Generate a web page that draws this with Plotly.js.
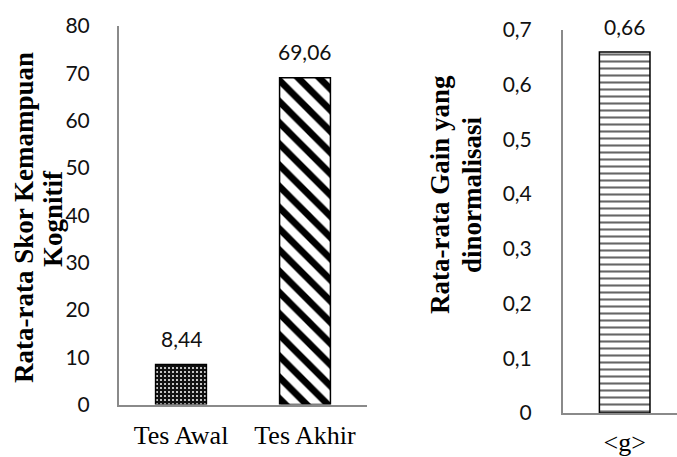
<!DOCTYPE html>
<html>
<head>
<meta charset="utf-8">
<script src="https://cdn.plot.ly/plotly-3.0.1.min.js"></script>
<style>html,body{margin:0;padding:0;background:#fff;}#chart{width:677px;height:457px;}</style>
</head>
<body>
<div id="chart"></div>
<script>
// ---- data ----
var testCategories = ['Tes Awal', 'Tes Akhir'];
var testScores = [8.44, 69.06];
var gainCategories = ['<g>'];
var gainValues = [0.66];
var leftTitleLines = ['Rata-rata Skor Kemampuan', 'Kognitif'];
var rightTitleLines = ['Rata-rata Gain yang', 'dinormalisasi'];

var W = 677, H = 457;
function px(x){ return x / W; }
function py(y){ return 1 - y / H; }

var serif = 'Liberation Serif, Times New Roman, serif';
var sans = 'Lato, Carlito, Calibri, sans-serif';
var axisGray = '#8a8a8a';
var textCol = '#111';

var traces = [
  {
    type: 'bar', x: [testCategories[0]], y: [testScores[0]], xaxis: 'x', yaxis: 'y',
    width: 0.41, hoverinfo: 'skip',
    marker: {color: '#111', line: {color: '#000', width: 1.5},
      pattern: {shape: '.', bgcolor: '#111', fgcolor: '#ffffff', size: 4, solidity: 0.2}}
  },
  {
    type: 'bar', x: [testCategories[1]], y: [testScores[1]], xaxis: 'x', yaxis: 'y',
    width: 0.41, hoverinfo: 'skip',
    marker: {color: '#fff', line: {color: '#000', width: 1.5},
      pattern: {shape: '\\', bgcolor: '#ffffff', fgcolor: '#000', size: 15, solidity: 0.45}}
  },
  {
    type: 'bar', x: gainCategories, y: gainValues, xaxis: 'x2', yaxis: 'y2',
    width: 0.41, hoverinfo: 'skip',
    marker: {color: '#fff', line: {color: '#000', width: 1.5},
      pattern: {shape: '-', bgcolor: '#ffffff', fgcolor: '#666', size: 7, solidity: 0.3}}
  }
];

var annotations = [];
testCategories.forEach(function(c, i){
  annotations.push({xref: 'x', yref: 'y', x: c, y: testScores[i], text: testScores[i].toFixed(2).replace('.', ','),
    showarrow: false, yanchor: 'middle', yshift: 26, font: {family: sans, size: 21, color: textCol}});
});
gainCategories.forEach(function(c, i){
  annotations.push({xref: 'x2', yref: 'y2', x: c, y: gainValues[i], text: gainValues[i].toFixed(2).replace('.', ','),
    showarrow: false, yanchor: 'middle', yshift: 25, font: {family: sans, size: 21, color: textCol}});
});
var leftX = [24, 53], rightX = [440, 472];
leftTitleLines.forEach(function(t, i){
  annotations.push({xref: 'paper', yref: 'paper', x: px(leftX[i]), y: py(218), text: '<b>' + t + '</b>',
    textangle: -90, showarrow: false, xanchor: 'center', yanchor: 'middle',
    font: {family: serif, size: 27, color: '#000'}});
});
rightTitleLines.forEach(function(t, i){
  annotations.push({xref: 'paper', yref: 'paper', x: px(rightX[i]), y: py(195), text: '<b>' + t + '</b>',
    textangle: -90, showarrow: false, xanchor: 'center', yanchor: 'middle',
    font: {family: serif, size: 27, color: '#000'}});
});

var layout = {
  width: W, height: H,
  margin: {l: 0, r: 0, t: 0, b: 0},
  paper_bgcolor: '#fff', plot_bgcolor: 'rgba(0,0,0,0)',
  showlegend: false,
  separators: ', ',
  bargap: 0,
  xaxis: {domain: [px(119), px(367)], type: 'category', range: [-0.5, 1.5],
    showline: true, linecolor: axisGray, linewidth: 2, showgrid: false, zeroline: false,
    ticks: '', ticklabelstandoff: 6, tickfont: {family: serif, size: 26, color: '#000'},
    anchor: 'y', fixedrange: true},
  yaxis: {domain: [py(404.5), py(26)], range: [0, 80], dtick: 10, tick0: 0,
    showline: true, linecolor: axisGray, linewidth: 2, showgrid: false, zeroline: false,
    ticks: '', ticklabelstandoff: 23, tickfont: {family: sans, size: 21, color: textCol},
    anchor: 'x', fixedrange: true},
  xaxis2: {domain: [px(563), 1], type: 'category', range: [-0.5, 0.424],
    showline: true, linecolor: axisGray, linewidth: 2, showgrid: false, zeroline: false,
    ticks: '', ticklabelstandoff: 5, tickfont: {family: serif, size: 26, color: '#000'},
    anchor: 'y2', fixedrange: true},
  yaxis2: {domain: [py(413), py(30)], range: [0, 0.7], dtick: 0.1, tick0: 0,
    showline: true, linecolor: axisGray, linewidth: 2, showgrid: false, zeroline: false,
    ticks: '', ticklabelstandoff: 25, tickfont: {family: sans, size: 21, color: textCol},
    anchor: 'x2', fixedrange: true},
  annotations: annotations
};

Plotly.newPlot('chart', traces, layout, {displayModeBar: false, staticPlot: true});
</script>
</body>
</html>
